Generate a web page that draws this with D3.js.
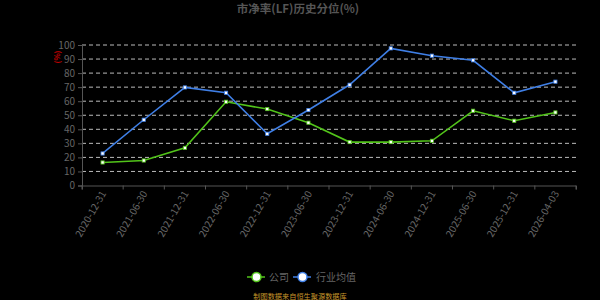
<!DOCTYPE html>
<html><head><meta charset="utf-8">
<script src="https://cdn.jsdelivr.net/npm/d3@7/dist/d3.min.js"></script>
<style>html,body{margin:0;padding:0;background:#000;}svg{display:block;}</style>
</head><body><svg id="c" width="600" height="300"></svg>
<script>
const categories = ["2020-12-31","2021-06-30","2021-12-31","2022-06-30","2022-12-31","2023-06-30","2023-12-31","2024-06-30","2024-12-31","2025-06-30","2025-12-31","2026-04-03"];
const companyValues = [16.4,17.8,26.8,59.6,54.4,44.7,30.9,30.9,31.8,53.2,46.1,52.0];
const industryValues = [22.8,46.8,69.8,66.0,36.8,53.7,71.7,97.6,92.4,89.1,66.0,73.9];
const yTicks = [0,10,20,30,40,50,60,70,80,90,100];
const seriesNames = ["公司","行业均值"];
const colors = ["#52c41a","#3f7fe6"];

(function(){
const svg = d3.select("#c");
const font = "'Noto Sans CJK SC','Noto Sans',sans-serif";
const mLeft = 82, mRight = 576, mTop = 45, mBottom = 185.5;
const x = d3.scaleBand().domain(categories).range([mLeft, mRight]);
const y = d3.scaleLinear().domain([0,100]).range([mBottom, mTop]);

svg.append("text").attr("x",298).attr("y",13).attr("text-anchor","middle")
  .attr("font-family",font).attr("font-size",11.5).attr("font-weight","bold").attr("fill","#555")
  .text("市净率(LF)历史分位(%)");

svg.append("g").selectAll("line").data(yTicks.filter(d=>d>0)).join("line")
  .attr("x1",mLeft).attr("x2",mRight).attr("y1",d=>y(d)).attr("y2",d=>y(d))
  .attr("stroke","#bbb").attr("stroke-width",1).attr("stroke-dasharray","4,3");

const ya = svg.append("g").attr("transform",`translate(${mLeft},0)`)
  .call(d3.axisLeft(y).tickValues(yTicks).tickSize(4).tickPadding(3));
ya.select(".domain").attr("stroke","#555");
ya.selectAll(".tick line").attr("stroke","#555");
ya.selectAll("text").attr("fill","#666").attr("font-size",10).attr("font-family",font);

const xa = svg.append("g").attr("transform",`translate(0,${mBottom})`)
  .call(d3.axisBottom(x).tickSize(4).tickSizeOuter(4));
xa.select(".domain").attr("stroke","#555");
xa.selectAll(".tick line").attr("stroke","#555").attr("transform",`translate(${-x.bandwidth()/2},0)`);
xa.append("line").attr("x1",mRight).attr("x2",mRight).attr("y1",0).attr("y2",4).attr("stroke","#555");
xa.selectAll(".tick text").attr("fill","#666").attr("font-size",10).attr("font-family",font)
  .attr("text-anchor","end").attr("dy",0).attr("y",0)
  .attr("transform","translate(4,8) rotate(-60)");

svg.append("text").attr("transform","translate(60,57) rotate(-90)").attr("text-anchor","middle")
  .attr("font-family",font).attr("font-size",7.5).attr("font-weight","bold").attr("fill","#c00000").text("(%)");

const line = d3.line().x((d,i)=>x(categories[i])+x.bandwidth()/2).y(d=>y(d));
[companyValues, industryValues].forEach((vals,k)=>{
  svg.append("path").datum(vals).attr("d",line).attr("fill","none")
    .attr("stroke",colors[k]).attr("stroke-width",1.6);
  svg.append("g").selectAll("rect").data(vals).join("rect")
    .attr("x",(d,i)=>x(categories[i])+x.bandwidth()/2-1.6).attr("y",d=>y(d)-1.6)
    .attr("width",3.2).attr("height",3.2).attr("fill","#fff").attr("stroke",colors[k]).attr("stroke-width",0.8);
});

const lg = [{x:247,tx:269},{x:293,tx:316}];
seriesNames.forEach((n,k)=>{
  const g = svg.append("g");
  g.append("line").attr("x1",lg[k].x).attr("x2",lg[k].x+18).attr("y1",277).attr("y2",277)
    .attr("stroke",colors[k]).attr("stroke-width",1.5);
  g.append("circle").attr("cx",lg[k].x+9.5).attr("cy",277).attr("r",4.5)
    .attr("fill","#fff").attr("stroke",colors[k]).attr("stroke-width",1.5);
  g.append("text").attr("x",lg[k].tx).attr("y",281).attr("font-family",font).attr("font-size",10)
    .attr("fill","#666").text(n);
});

svg.append("text").attr("x",300).attr("y",299).attr("text-anchor","middle").attr("font-family",font)
  .attr("font-size",7.2).attr("fill","#c8962a").text("制图数据来自恒生聚源数据库");
})();
</script></body></html>
